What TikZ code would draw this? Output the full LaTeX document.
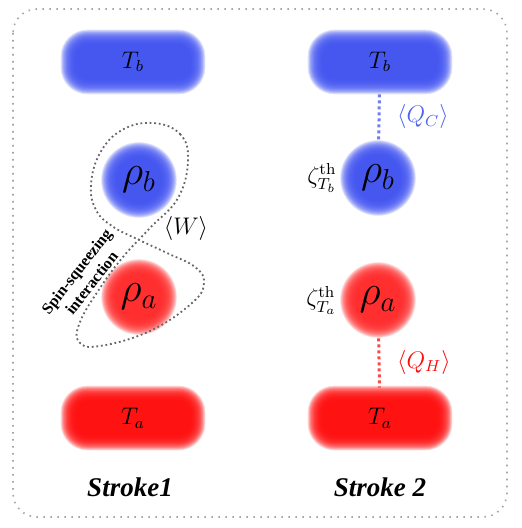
\documentclass[tikz,border=0pt]{standalone}
\usepackage{amsmath}
\usepackage{fontspec}
\newfontfamily\strokefont{Liberation Serif}
\usetikzlibrary{positioning, calc}
\definecolor{HotRed}{RGB}{255,10,10}
\definecolor{RhoRed}{RGB}{255,40,40}
\definecolor{ColdBlue}{RGB}{64,82,240}
\definecolor{QBlue}{RGB}{80,100,240}

% soft edge drawn as stacked translucent copies
\newcommand{\glow}[6]{%
  \foreach \k in {-8,...,11}{%
    \pgfmathsetmacro{\gw}{(#4+2*\k*0.8)*0.5}%
    \pgfmathsetmacro{\gh}{(#5+2*\k*0.8)*0.5}%
    \pgfmathsetmacro{\gr}{#6+\k*0.4}%
    \node[#2, fill=#3, fill opacity=0.16, inner sep=0pt, minimum width=\gw pt, minimum height=\gh pt, rounded corners=\gr pt] at #1 {};
  }}

\tikzset{
  bath/.style={rectangle, inner sep=0pt, minimum width=60pt, minimum height=22pt, font=\large},
  state/.style={circle, inner sep=0pt, minimum size=28pt, font=\huge},
  heatline/.style={line width=1.5pt, dash pattern=on 1.5pt off 1.5pt, shorten <=5pt, shorten >=4pt},
  loopline/.style={gray!80!black, line width=0.9pt, dash pattern=on 0.9pt off 1.4pt},
  frame/.style={gray!70, line width=0.8pt, dash pattern=on 0.8pt off 2.7pt, rounded corners=12pt},
  strokelabel/.style={font=\strokefont\bfseries\itshape\fontsize{13.5}{16}\selectfont}
}

\begin{document}
\begin{tikzpicture}[x=0.5pt, y=-0.5pt]
\useasboundingbox (0,0) rectangle (522,528);
\draw[frame] (13,9) rectangle (507,517);

% glows
\glow{(133,62)}{rectangle}{ColdBlue}{127}{47}{9}
\glow{(380,62)}{rectangle}{ColdBlue}{127}{47}{9}
\glow{(133,418)}{rectangle}{HotRed}{127}{47}{9}
\glow{(380,418)}{rectangle}{HotRed}{127}{47}{9}
\glow{(139,180)}{circle}{ColdBlue}{58}{58}{0}
\glow{(378,178)}{circle}{ColdBlue}{58}{58}{0}
\glow{(139,297)}{circle}{RhoRed}{58}{58}{0}
\glow{(378,300)}{circle}{RhoRed}{58}{58}{0}

% baths
\node[bath] (Tbl) at (133,62) {$T_b$};
\node[bath] (Tbr) at (380,62) {$T_b$};
\node[bath] (Tal) at (133,418) {$T_a$};
\node[bath] (Tar) at (380,418) {$T_a$};

% qubit states
\node[state] (rbl) at (139,180) {$\rho_b$};
\node[state] (rbr) at (378,178) {$\rho_b$};
\node[state] (ral) at (139,297) {$\rho_a$};
\node[state] (rar) at (378,300) {$\rho_a$};

% stroke 1
\draw[loopline] plot[smooth cycle, tension=0.7] coordinates {(153,123) (180,134) (188,160) (178,198) (150,228) (123,257) (100,288) (80,322) (79,342) (100,346) (150,331) (192,303) (204,283) (195,267) (167,253) (137,239) (112,226) (96,210) (91,185) (100,153) (122,130)};
\node (W) at (186,229) {\large$\langle W\rangle$};
\node[rotate=52, align=center, font=\strokefont\bfseries\fontsize{8}{9.5}\selectfont] (SSI) at (84,277) {Spin-squeezing\\interaction};

% stroke 2
\node[left=3pt of rbr] (zb) {\large$\zeta^{\text{th}}_{T_b}$};
\node[left=3pt of rar] (za) {\large$\zeta^{\text{th}}_{T_a}$};
\draw[heatline, ColdBlue!75] (Tbr) -- node[right=5pt, QBlue] {\large$\langle Q_C\rangle$} (rbr);
\draw[heatline, HotRed!75] (rar) -- node[right=5pt, HotRed] {\large$\langle Q_H\rangle$} (Tar);

\node[strokelabel] (S1) at (130,487) {Stroke1};
\node[strokelabel] (S2) at (380,487) {Stroke 2};
\end{tikzpicture}
\end{document}
